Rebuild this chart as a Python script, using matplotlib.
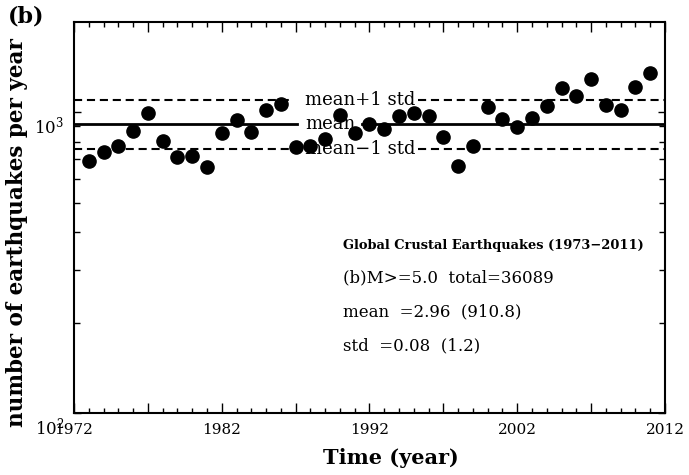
import numpy as np
import matplotlib
matplotlib.use("Agg")
import matplotlib.pyplot as plt
from matplotlib.ticker import FixedLocator, NullFormatter, MultipleLocator, FixedFormatter
import matplotlib.transforms as mtransforms

plt.rcParams['font.family'] = ['DejaVu Serif']
plt.rcParams['mathtext.fontset'] = 'dejavuserif'

years = list(range(1973, 2012))
counts = [692, 737, 772, 866, 998, 801, 713, 719, 657, 853,
          945, 860, 1021, 1069, 766, 776, 813, 982, 853, 912,
          883, 972, 998, 977, 827, 666, 776, 1041, 953, 896,
          960, 1047, 1205, 1133, 1295, 1061, 1023, 1214, 1352]
log_mean = 2.96
log_std = 0.08
xticks = [1972, 1977, 1982, 1987, 1992, 1997, 2002, 2007, 2012]
xtick_labels = ['1972', '', '1982', '', '1992', '', '2002', '', '2012']
yticks = [100, 1000]
ytick_labels = [r'$10^{2}$', r'$10^{3}$']
info_title = 'Global Crustal Earthquakes (1973\u22122011)'
info_lines = ["(b)M>=5.0  total=36089", "mean  =2.96  (910.8)", "std  =0.08  (1.2)"]

fig = plt.figure(figsize=(6.89, 4.75), dpi=100)
ax = fig.add_axes([74/689, 1-413/475, (665-74)/689, (413-22)/475])
ax.set_yscale('log')
ax.set_xlim(1972, 2012)
ax.set_ylim(100, 2000)

mean_v = 10**log_mean
up_v = 10**(log_mean + log_std)
lo_v = 10**(log_mean - log_std)

dash = (0, (3.9, 2.3))
for y, gap, ls, lw in [(up_v, (1986.6, 1995.25), dash, 1.5), (lo_v, (1986.6, 1995.25), dash, 1.5),
                       (mean_v, (1987.1, 1991.5), '-', 2.0)]:
    ax.plot([1972, gap[0]], [y, y], color='black', lw=lw, linestyle=ls, zorder=2)
    ax.plot([gap[1], 2012], [y, y], color='black', lw=lw, linestyle=ls, zorder=2)

lab_x = 1987.63
for y, t in [(up_v, 'mean+1 std'), (mean_v, 'mean'), (lo_v, 'mean\u22121 std')]:
    ax.text(lab_x, y, t, fontsize=13, va='center', ha='left', zorder=3)

ax.plot(years, counts, 'o', color='black', markersize=9.5, zorder=4, clip_on=False)

ax.xaxis.set_major_locator(FixedLocator(xticks))
ax.xaxis.set_major_formatter(FixedFormatter(xtick_labels))
ax.xaxis.set_minor_locator(MultipleLocator(1))
ax.set_yticks(yticks)
ax.set_yticklabels(ytick_labels)
ax.yaxis.set_minor_locator(FixedLocator([200, 300, 400, 500, 600, 700, 800, 900]))
ax.yaxis.set_minor_formatter(NullFormatter())

ax.tick_params(which='both', direction='in', top=True, right=True, width=1.0)
ax.tick_params(axis='x', which='major', length=7, labelsize=11, pad=7)
ax.tick_params(axis='x', which='minor', length=3.5)
ax.tick_params(axis='y', which='major', length=5, pad=7)
ax.tick_params(axis='y', which='minor', length=4)
for lbl in ax.get_yticklabels():
    lbl.set_verticalalignment('top')
    lbl.set_transform(lbl.get_transform() + mtransforms.ScaledTranslation(0, -3/100, fig.dpi_scale_trans))
    lbl.set_fontsize(12)

for s in ax.spines.values():
    s.set_linewidth(1.5)

ax.set_xlabel('Time (year)', fontsize=15, fontweight='bold')
ax.xaxis.set_label_coords((391-74)/(665-74), -(458-413)/(413-22), transform=ax.transAxes)
ax.xaxis.label.set_va('center')
ax.set_ylabel('number of earthquakes per year', fontsize=15.5, fontweight='bold')
ax.yaxis.set_label_coords(-(74-17)/(665-74), (413-233)/(413-22), transform=ax.transAxes)
ax.yaxis.label.set_va('center')

fig.text(8/689, 1-16/475, '(b)', fontsize=16, fontweight='bold', va='center', ha='left')

fig.text(343/689, 1-245/475, info_title, fontsize=9.4, fontweight='bold', va='center', ha='left')
for i, t in enumerate(info_lines):
    fig.text(343/689, 1-(278+34*i)/475, t, fontsize=12, va='center', ha='left')

fig.savefig('out.png', dpi=100)
